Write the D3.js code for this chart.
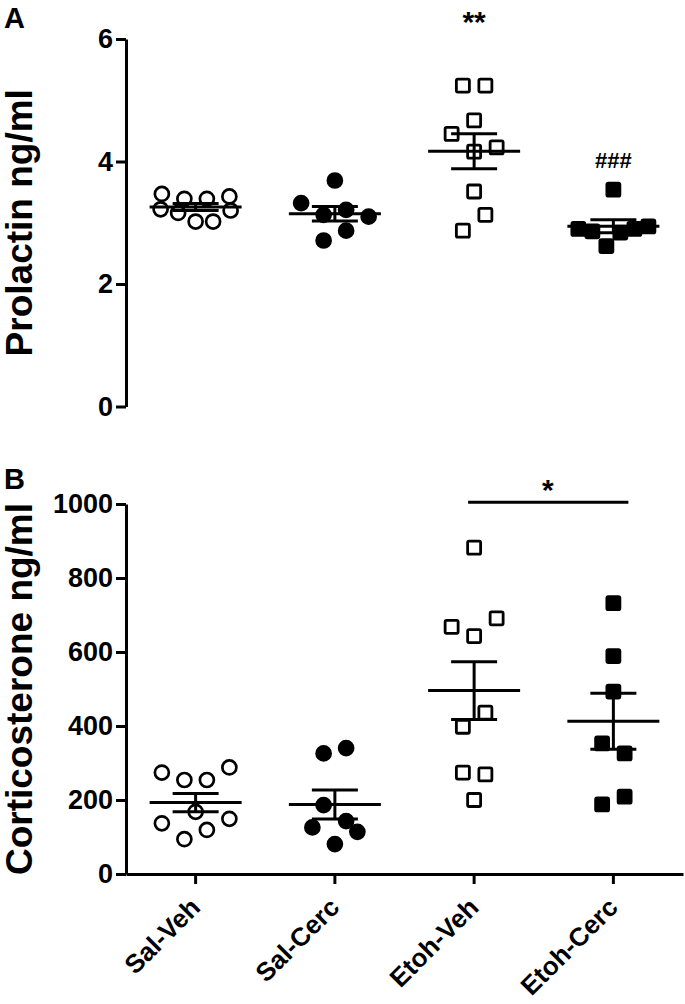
<!DOCTYPE html>
<html>
<head>
<meta charset="utf-8">
<script src="https://cdn.jsdelivr.net/npm/d3@7"></script>
<style>
  body { margin: 0; background: #fff; }
  text { font-family: "Liberation Sans", Arial, sans-serif; font-weight: bold; }
</style>
</head>
<body>
<div id="viz"></div>
<script>
// chart data
let groups = ["Sal-Veh", "Sal-Cerc", "Etoh-Veh", "Etoh-Cerc"]
let filled = [false, true, false, true]
let shapes = ["circle", "circle", "square", "square"]

let prolactin = [
  [3.22, 3.16, 3.02, 3.02, 3.20, 3.47, 3.39, 3.39, 3.43],
  [2.71, 2.87, 3.32, 3.13, 3.21, 3.10, 3.69],
  [2.87, 3.13, 3.51, 4.45, 4.16, 4.23, 4.67, 5.24, 5.24],
  [2.90, 2.86, 2.62, 2.84, 2.90, 2.94, 3.54]
]
let corticosterone = [
  [137, 94, 119, 149, 168, 274, 254, 254, 288],
  [126, 81, 114, 186, 143, 326, 340],
  [200, 274, 269, 398, 436, 668, 643, 691, 882],
  [188, 209, 353, 326, 493, 589, 732]
]
let prolactinTicks = [0, 2, 4, 6]
let corticoTicks = [0, 200, 400, 600, 800, 1000]

//Layout settings
let width = 685
let height = 1004
let axisX = 126
let axisRight = 683

let svg = d3.select('#viz').append('svg').attr("width", width).attr("height", height)

let x = d3.scaleBand().domain(groups).range([axisX, axisRight])
let yA = d3.scaleLinear().domain([0, 6]).range([406.5, 39])
let yB = d3.scaleLinear().domain([0, 1000]).range([874, 504])

// Prism-like scatter: bin points into rows by pixel height, spread each row
function swarm(vals, y){
    let idx = vals.map((v, i) => i).sort((a, b) => vals[a] - vals[b] || a - b)
    let rows = []
    let cur = null
    idx.forEach(i => {
        if(cur && Math.abs(y(vals[i]) - y(vals[cur[0]])) <= 21.5){ cur.push(i) }
        else { cur = [i]; rows.push(cur) }
    })
    let out = []
    rows.forEach(r => {
        r.sort((a, b) => a - b)
        let n = r.length
        let step = n > 1 ? Math.min(22.5, 70 / (n - 1)) : 0
        r.forEach((i, k) => out.push({v: vals[i], dx: (k - (n - 1) / 2) * step}))
    })
    return out
}

function drawPanel(data, y, ticks, title){
    let yAxis = svg.append("g").attr("transform", `translate(${axisX},0)`)
        .call(d3.axisLeft(y).tickValues(ticks).tickFormat(d3.format("d")).tickSize(10).tickPadding(3).tickSizeOuter(0))
    yAxis.select(".domain").attr("stroke", "#000").attr("stroke-width", 3)
    yAxis.selectAll(".tick line").attr("stroke", "#000").attr("stroke-width", 3)
    yAxis.selectAll(".tick text").attr("fill", "#000").attr("font-size", 27)
        .attr("font-family", '"Liberation Sans", Arial, sans-serif').attr("font-weight", "bold")

    let mid = (y.range()[0] + y.range()[1]) / 2
    svg.append("text").text(title).attr("text-anchor", "middle")
        .attr("transform", `translate(32,${mid}) rotate(-90)`).attr("font-size", 37).attr("fill", "#000")

    data.forEach((vals, g) => {
        let cx = x(groups[g]) + x.bandwidth() / 2
        let pts = swarm(vals, y)
        let gp = svg.append("g")
        if(shapes[g] == "circle"){
            gp.selectAll("circle").data(pts).join("circle")
                .attr("cx", d => cx + d.dx).attr("cy", d => y(d.v)).attr("r", 7)
                .attr("fill", filled[g] ? "#000" : "#fff").attr("stroke", "#000").attr("stroke-width", 2.7)
        } else {
            gp.selectAll("rect").data(pts).join("rect")
                .attr("x", d => cx + d.dx - 6.5).attr("y", d => y(d.v) - 6.5)
                .attr("width", 13).attr("height", 13).attr("rx", 1.5)
                .attr("fill", filled[g] ? "#000" : "#fff").attr("stroke", "#000").attr("stroke-width", 2.8)
        }
        // mean +/- SEM
        let m = d3.mean(vals)
        let sem = d3.deviation(vals) / Math.sqrt(vals.length)
        let lines = [
            [cx - 46, y(m), cx + 46, y(m)],
            [cx, y(m - sem), cx, y(m + sem)],
            [cx - 23, y(m + sem), cx + 23, y(m + sem)],
            [cx - 23, y(m - sem), cx + 23, y(m - sem)]
        ]
        gp.selectAll("line").data(lines).join("line")
            .attr("x1", d => d[0]).attr("y1", d => d[1]).attr("x2", d => d[2]).attr("y2", d => d[3])
            .attr("stroke", "#000").attr("stroke-width", 3)
    })
}

drawPanel(prolactin, yA, prolactinTicks, "Prolactin ng/ml")
drawPanel(corticosterone, yB, corticoTicks, "Corticosterone ng/ml")

//X axis only on panel B
let xAxis = svg.append("g").attr("transform", `translate(0,${yB(0)})`)
    .call(d3.axisBottom(x).tickSize(10).tickSizeOuter(0).tickFormat(""))
xAxis.select(".domain").attr("stroke", "#000").attr("stroke-width", 3)
xAxis.selectAll(".tick line").attr("stroke", "#000").attr("stroke-width", 3)
svg.append("g").selectAll("text").data(groups).join("text").text(d => d)
    .attr("text-anchor", "end").attr("font-size", 26).attr("fill", "#000")
    .attr("transform", d => `translate(${x(d) + x.bandwidth() / 2 + 6},${yB(0) + 35}) rotate(-45)`)

//Panel letters
svg.append("text").text("A").attr("x", 4).attr("y", 28).attr("font-size", 29).attr("fill", "#000")
svg.append("text").text("B").attr("x", 4).attr("y", 489).attr("font-size", 29).attr("fill", "#000")

//Significance marks
let cxOf = g => x(g) + x.bandwidth() / 2
svg.append("text").text("**").attr("text-anchor", "middle")
    .attr("x", cxOf("Etoh-Veh")).attr("y", yA(6.35) + 14).attr("font-size", 30).attr("fill", "#000")
svg.append("text").text("###").attr("text-anchor", "middle")
    .attr("x", cxOf("Etoh-Cerc")).attr("y", yA(4.04) + 9).attr("font-size", 22).attr("fill", "#000")

svg.append("line").attr("x1", cxOf("Etoh-Veh") - 6).attr("x2", cxOf("Etoh-Cerc") + 15)
    .attr("y1", yB(1005)).attr("y2", yB(1005)).attr("stroke", "#000").attr("stroke-width", 3)
svg.append("text").text("*").attr("text-anchor", "middle")
    .attr("x", (cxOf("Etoh-Veh") + cxOf("Etoh-Cerc")) / 2 + 4).attr("y", yB(1005) - 2)
    .attr("font-size", 30).attr("fill", "#000")
</script>
</body>
</html>
